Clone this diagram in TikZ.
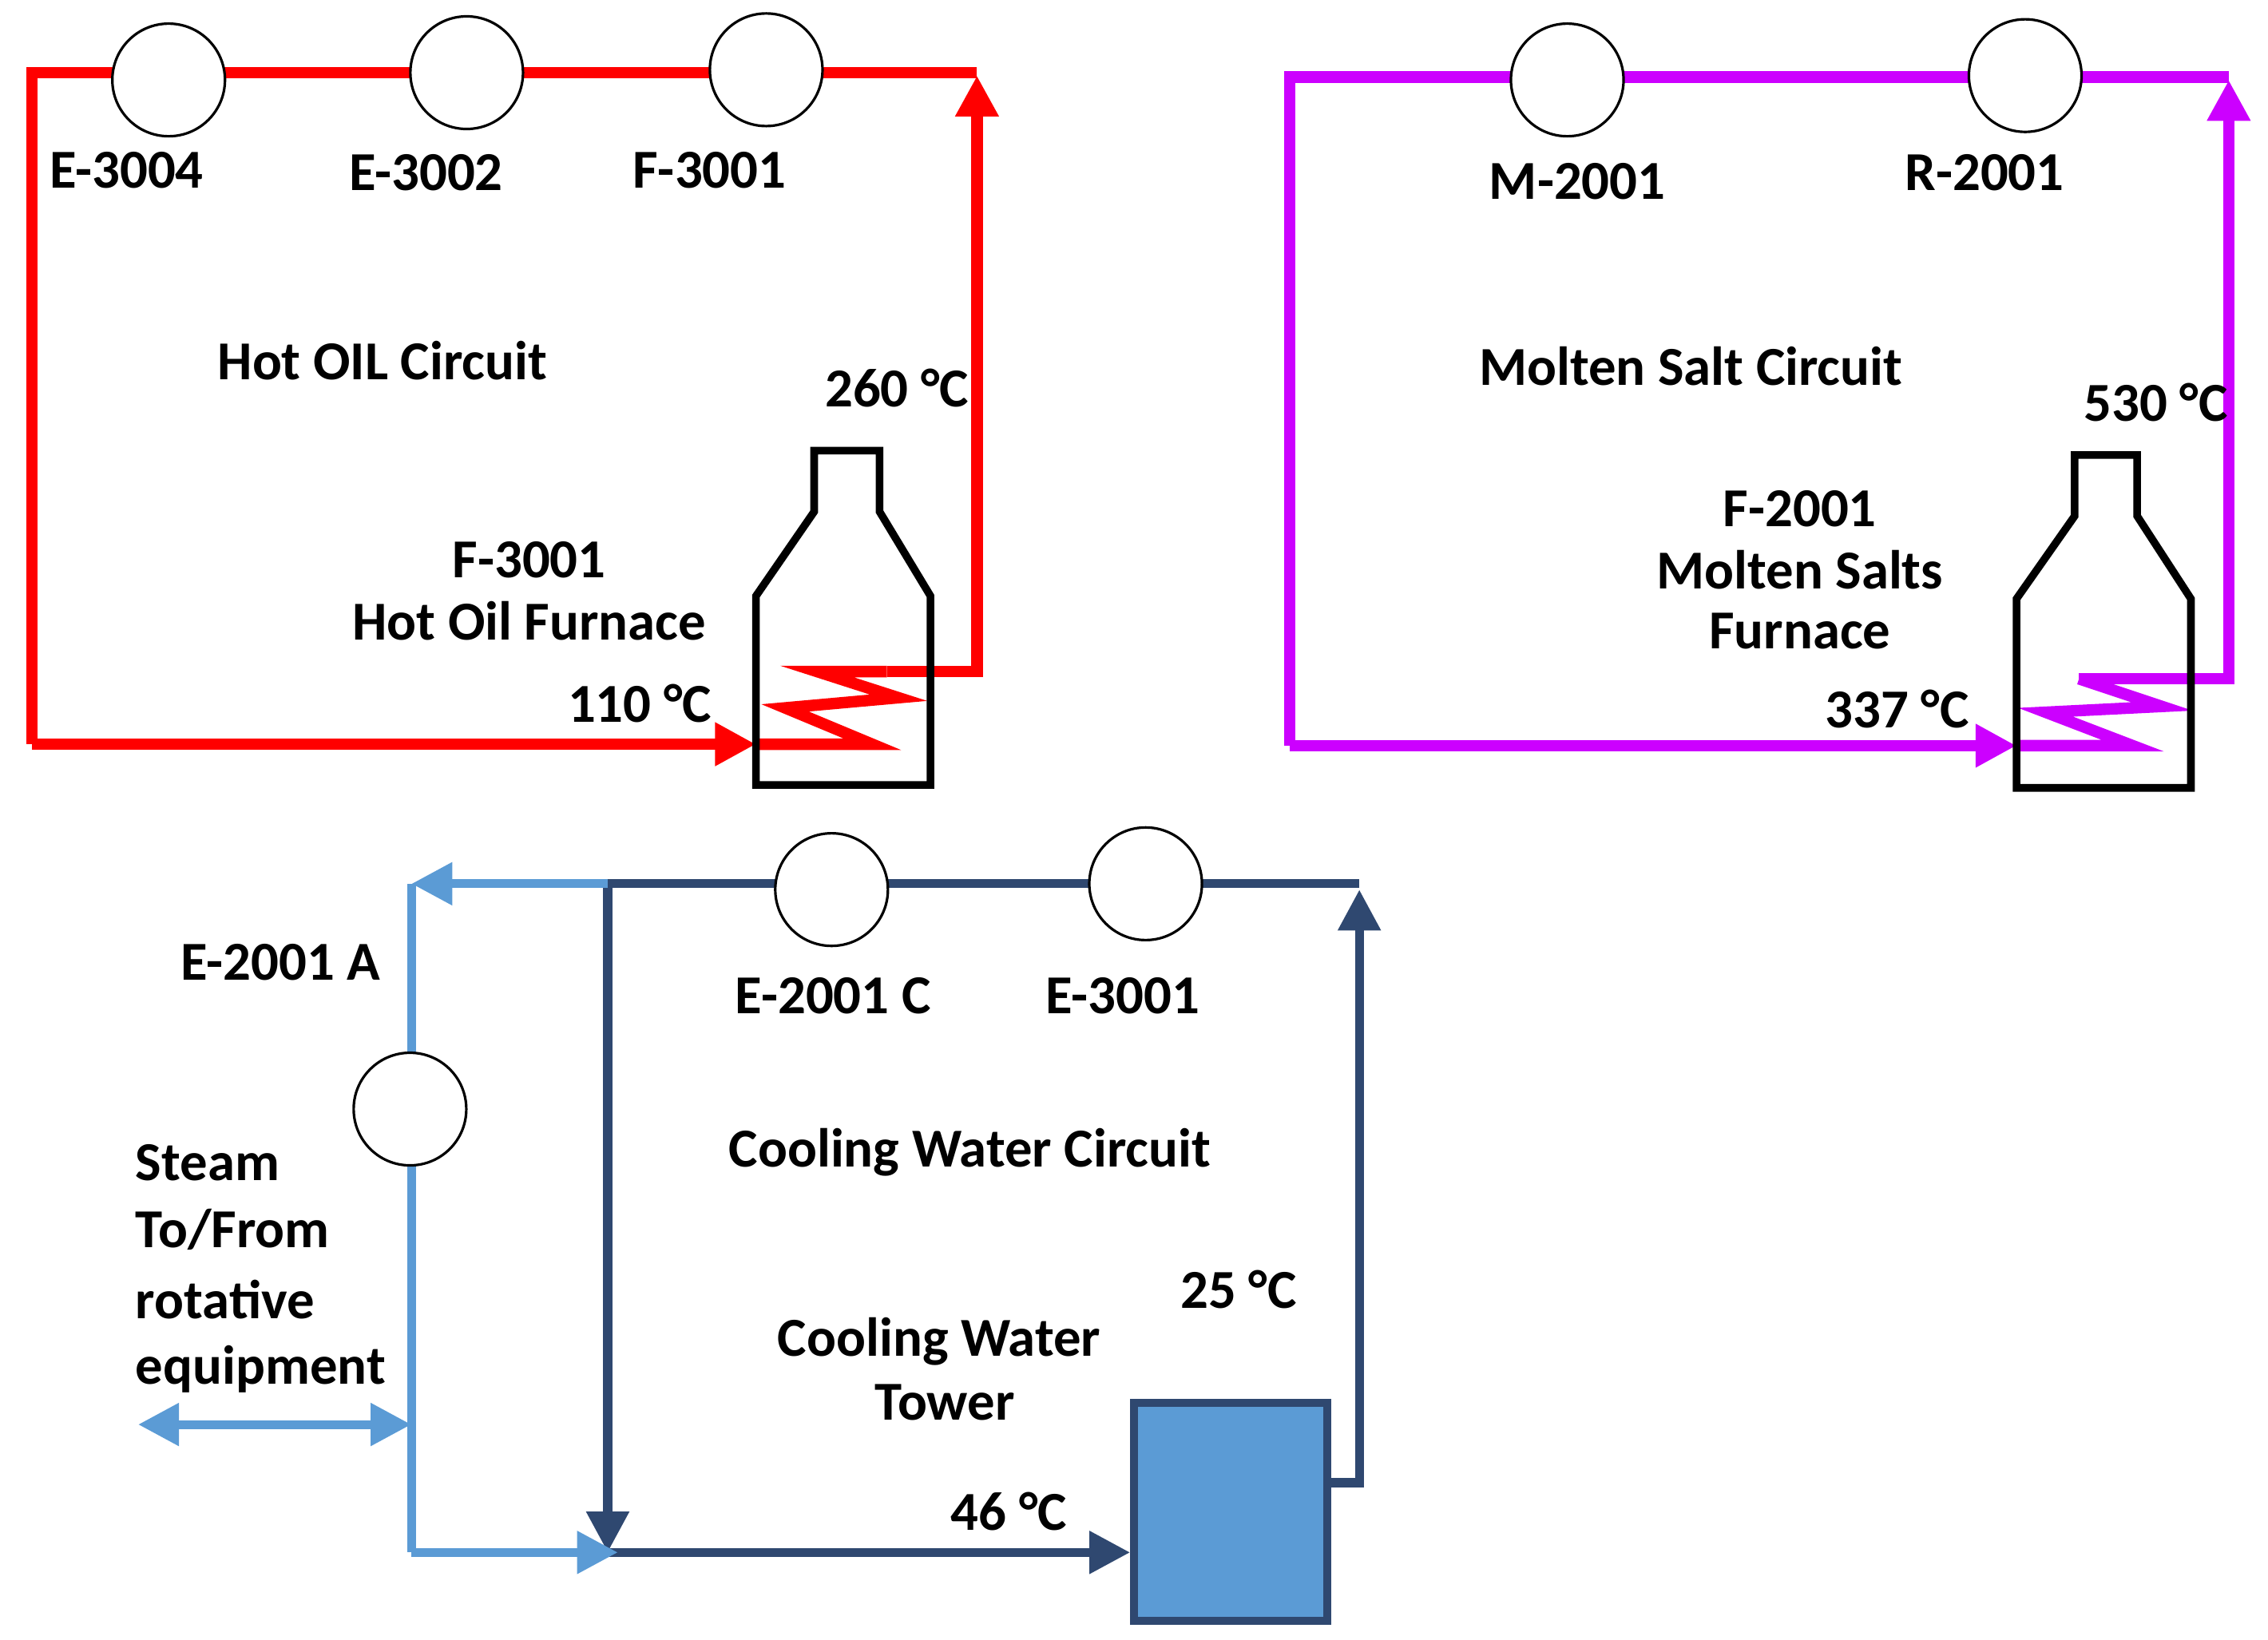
\documentclass[tikz,border=0pt]{standalone}
\usepackage{fontspec}
\setmainfont{Carlito}
\usetikzlibrary{arrows.meta}
\definecolor{oil}{RGB}{255,0,0}
\definecolor{salt}{RGB}{204,0,255}
\definecolor{cw}{RGB}{47,72,112}
\definecolor{lb}{RGB}{91,155,213}
\begin{document}
\begin{tikzpicture}[x=0.02cm,y=-0.02cm,
  eq/.style={circle,draw=black,fill=white,line width=1pt,minimum size=1.55cm,inner sep=0},
  lbl/.style={font=\fontsize{21.5}{26}\selectfont\bfseries,inner sep=0},
  furn/.style={draw=black,line width=3pt,line join=miter},
  tip/.style={-{Triangle[length=16pt,width=16pt]}}]
\useasboundingbox (0,0) rectangle (1560,1128);
% ---------- Hot oil ----------
\begin{scope}[line width=4.5pt,draw=oil,color=oil]
\coordinate (o1) at (610,462); \coordinate (o2) at (672,462); \coordinate (o3) at (672,52);
\coordinate (o4) at (22,50); \coordinate (o5) at (22,512); \coordinate (o6) at (520,512);
\draw (o3|-o4) -- (o4) -- (o5);
\draw[tip] (o5) -- (o6);
\draw[tip] (o1) -- (o2) -- (o3);
\draw (520,512) -- (600,512) -- (540,487) -- (618,480) -- (562,462) -- (o1);
\end{scope}
\draw[furn] (520,540) -- (640,540) -- (640,410) -- (605,352) -- (605,310) -- (560,310) -- (560,352) -- (520,410) -- cycle;
\node[eq] (e3004) at (116,55) {};
\node[eq] (e3002) at (321,50) {};
\node[eq] (f3001) at (527,48) {};
\node[lbl] (l1) at (87,117) {E-3004};
\node[lbl] (l2) at (293,119) {E-3002};
\node[lbl] (l3) at (488,117) {F-3001};
\node[lbl] (l4) at (263,248) {Hot OIL Circuit};
\node[lbl] (l5) at (617,267) {260 °C};
\node[lbl] (l6) at (364,385) {F-3001};
\node[lbl] (l7) at (364,427) {Hot Oil Furnace};
\node[lbl] (l8) at (440,484) {110 °C};
% ---------- Molten salt ----------
\begin{scope}[line width=4.5pt,draw=salt,color=salt]
\coordinate (s1) at (1430,467); \coordinate (s2) at (1533,467); \coordinate (s3) at (1533,55);
\coordinate (s4) at (887,53); \coordinate (s5) at (887,513); \coordinate (s6) at (1387,513);
\draw (s3|-s4) -- (s4) -- (s5);
\draw[tip] (s5) -- (s6);
\draw[tip] (s1) -- (s2) -- (s3);
\draw (1387,513) -- (1467,513) -- (1407,490) -- (1487,486) -- (s1);
\end{scope}
\draw[furn] (1387,542) -- (1507,542) -- (1507,412) -- (1470,355) -- (1470,313) -- (1427,313) -- (1427,355) -- (1387,412) -- cycle;
\node[eq] (m2001) at (1078,55) {};
\node[eq] (r2001) at (1393,52) {};
\node[lbl] (l9) at (1085,125) {M-2001};
\node[lbl] (l10) at (1365,119) {R-2001};
\node[lbl] (l11) at (1163,252) {Molten Salt Circuit};
\node[lbl] (l12) at (1483,277) {530 °C};
\node[lbl] (l13) at (1238,350) {F-2001};
\node[lbl] (l14) at (1238,392) {Molten Salts};
\node[lbl] (l15) at (1238,434) {Furnace};
\node[lbl] (l16) at (1305,488) {337 °C};
% ---------- Cooling water ----------
\node[draw=cw,fill=lb,line width=3pt,minimum width=2.66cm,minimum height=3cm,inner sep=0] (tower) at (846.5,1040) {};
\begin{scope}[line width=3.5pt,draw=cw,color=cw]
\coordinate (c1) at (935,1020); \coordinate (c2) at (935,612); \coordinate (c3) at (418,608);
\coordinate (c4) at (418,1068);
\draw[tip] (tower.east|-c1) -- (c1) -- (c2);
\draw (c2|-c3) -- (c3);
\draw[tip] (c3) -- (c4);
\draw[tip] (c4) -- (tower.west|-c4);
\end{scope}
\begin{scope}[line width=3.5pt,draw=lb,color=lb]
\coordinate (b1) at (283,608); \coordinate (b2) at (283,1068); \coordinate (b3) at (425,1068);
\coordinate (b4) at (95,980); \coordinate (b5) at (283,980);
\draw[tip] (c3) -- (b1);
\draw (b1) -- (b2);
\draw[tip] (b2) -- (b3);
\draw[{Triangle[length=16pt,width=16pt]}-{Triangle[length=16pt,width=16pt]}] (b4) -- (b5);
\end{scope}
\node[eq] (e2001c) at (572,612) {};
\node[eq] (e3001) at (788,608) {};
\node[eq] (e2001a) at (282,763) {};
\node[lbl] (l17) at (573,685) {E-2001 C};
\node[lbl] (l18) at (772,685) {E-3001};
\node[lbl] (l19) at (667,793) {Cooling Water Circuit};
\node[lbl] (l20) at (852,887) {25 °C};
\node[lbl] (l21) at (646,923) {Cooling Water};
\node[lbl] (l22) at (650,965) {Tower};
\node[lbl] (l23) at (694,1040) {46 °C};
\node[lbl] (l24) at (193,662) {E-2001 A};
\node[lbl,anchor=west] (l25) at (93,800) {Steam};
\node[lbl,anchor=west] (l26) at (93,846) {To/From};
\node[lbl,anchor=west] (l27) at (93,894) {rotative};
\node[lbl,anchor=west] (l28) at (93,942) {equipment};
\end{tikzpicture}
\end{document}
